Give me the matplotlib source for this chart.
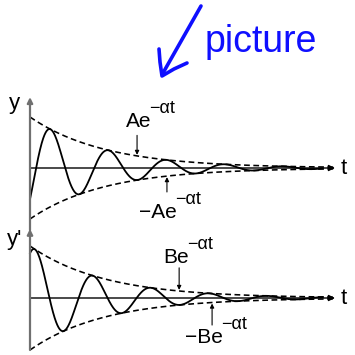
import numpy as np
import matplotlib.pyplot as plt
import matplotlib as mpl

mpl.rcParams['font.family'] = ['Liberation Sans', 'DejaVu Sans']

# damped oscillation  y = A e^{-at} sin(w(t - t0)),  y' drawn with envelope B e^{-at}
alpha = 0.41
omega = 3.3
t0 = 0.2
A = 1.0
B = 1.0
t_axis_end = 10.0
t_curve_end = 9.6

# label anchor positions (t, y) and where the little arrows sit
top_label_pos = (3.13, 0.81)
top_neg_label_pos = (3.56, -0.98)
top_arrow_t = (3.51, 4.49)
bot_label_pos = (4.36, 0.67)
bot_neg_label_pos = (5.08, -0.87)
bot_arrow_t = (4.89, 5.97)

px = 30.5   # pixels per unit of t
x0 = 30     # pixel column of the vertical axis
W = 355

fig = plt.figure(figsize=(3.55, 3.55), dpi=100)
renderer = fig.canvas.get_renderer()


def panel(y_px, unit):
    ax = fig.add_axes([0, 0, 1, 1])
    ax.set_xlim(-x0 / px, (W - x0) / px)
    ax.set_ylim(-(W - y_px) / unit, y_px / unit)
    ax.axis('off')
    ax.patch.set_alpha(0)
    return ax


def exp_label(ax, pos, base, size=15, sup_size=13):
    # base text, then the exponent placed just after it and raised
    txt = ax.text(*pos, base, fontsize=size, ha='left', va='baseline')
    w = txt.get_window_extent(renderer=renderer).width * 72 / fig.dpi
    ax.annotate('\u2212\u03b1t', xy=pos, xytext=(w - 1.2, 10.0),
                textcoords='offset points', fontsize=sup_size,
                ha='left', va='baseline')


ax1 = panel(168, 51)
ax2 = panel(298, 52)

t = np.linspace(0, t_curve_end, 1200)
te = np.linspace(0, t_axis_end, 400)
env = np.exp(-alpha * te)

y = A * np.exp(-alpha * t) * np.sin(omega * (t - t0))
beta = np.arctan(alpha / omega)
dy = B * np.exp(-alpha * t) * np.cos(omega * (t - t0) + beta)

dash = dict(color='k', lw=1.15, dashes=(3.6, 2.2))
fs = 16

for ax, curve, amp in ((ax1, y, A), (ax2, dy, B)):
    ax.plot(te, amp * env, **dash)
    ax.plot(te, -amp * env, **dash)
    ax.plot(t, curve, color='k', lw=1.3)
    ax.annotate('', xy=(t_axis_end, 0), xytext=(0, 0),
                arrowprops=dict(arrowstyle='-|>', color='k', lw=1.0,
                                mutation_scale=9, shrinkA=0, shrinkB=0))
    ax.text(10.2, 0, 't', fontsize=fs, ha='left', va='center')

# vertical axes
ax1.annotate('', xy=(0, 1.39), xytext=(0, -1.22),
             arrowprops=dict(arrowstyle='-|>', color='#707070', lw=1.6,
                             mutation_scale=8, shrinkA=0, shrinkB=0))
ax2.annotate('', xy=(0, 1.33), xytext=(0, -1.0),
             arrowprops=dict(arrowstyle='-|>', color='#707070', lw=1.6,
                             mutation_scale=8, shrinkA=0, shrinkB=0))
ax1.text(-0.52, 1.27, 'y', fontsize=fs, ha='center', va='center')
ax2.text(-0.5, 1.12, "y'", fontsize=fs, ha='center', va='center')

arrow_kw = dict(arrowstyle='-|>', color='k', lw=0.8, mutation_scale=6,
                shrinkA=0, shrinkB=0)

exp_label(ax1, top_label_pos, 'Ae')
exp_label(ax1, top_neg_label_pos, '\u2212Ae')
ta, tb = top_arrow_t
ax1.annotate('', xy=(ta, A * np.exp(-alpha * ta) + 0.02), xytext=(ta, 0.64),
             arrowprops=arrow_kw)
ax1.annotate('', xy=(tb, -A * np.exp(-alpha * tb) - 0.02), xytext=(tb, -0.47),
             arrowprops=arrow_kw)

exp_label(ax2, bot_label_pos, 'Be')
exp_label(ax2, bot_neg_label_pos, '\u2212Be')
ta, tb = bot_arrow_t
ax2.annotate('', xy=(ta, B * np.exp(-alpha * ta) + 0.02), xytext=(ta, 0.58),
             arrowprops=arrow_kw)
ax2.annotate('', xy=(tb, -B * np.exp(-alpha * tb) - 0.02), xytext=(tb, -0.52),
             arrowprops=arrow_kw)

# hand-written note, in pixel coordinates
ax3 = fig.add_axes([0, 0, 1, 1])
ax3.set_xlim(0, W)
ax3.set_ylim(W, 0)
ax3.axis('off')
ax3.patch.set_alpha(0)
blue = '#0f0fff'
ax3.plot([201, 163], [6, 73], color=blue, lw=2.6, solid_capstyle='round')
ax3.plot([159, 160, 162, 174, 187], [49, 62, 76, 69, 63], color=blue, lw=2.6,
         solid_capstyle='round', solid_joinstyle='round')
ax3.text(205, 52, 'picture', fontsize=27, color=blue, ha='left', va='baseline')

fig.savefig('out.png', dpi=100)
